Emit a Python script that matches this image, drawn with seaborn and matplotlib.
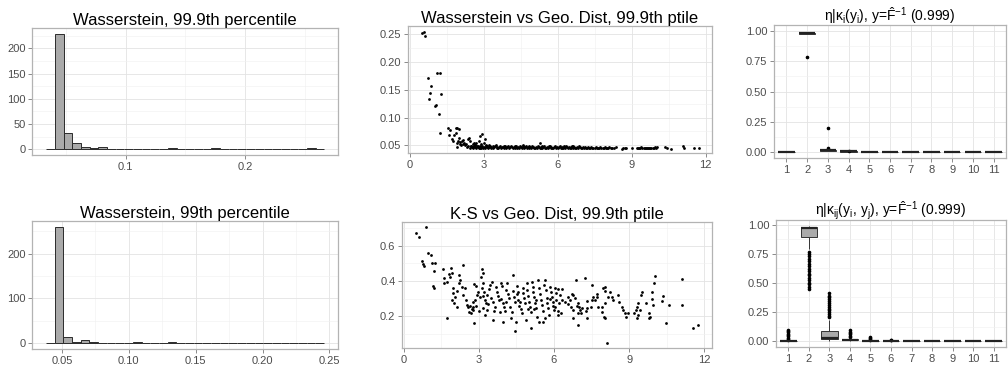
import numpy as np
import pandas as pd
import matplotlib
matplotlib.use("Agg")
import matplotlib.pyplot as plt
import seaborn as sns
from matplotlib.ticker import FixedLocator

# ------------------------------------------------------------------ data
# Histogram 1: Wasserstein distance, 99.9th percentile (bin counts)
w999_first_edge = 0.0335
w999_binwidth = 0.00727
w999_counts = [0, 229, 32, 12, 5, 3, 5, 0, 0, 0, 1, 1, 1, 1, 2, 0, 1, 0, 1, 2,
               0, 0, 0, 0, 0, 0, 0, 0, 0, 1, 2, 0]

# Histogram 2: Wasserstein distance, 99th percentile (bin counts)
w99_first_edge = 0.038
w99_binwidth = 0.0065
w99_counts = [0, 260, 13, 3, 7, 2, 1, 0, 0, 1, 2, 0, 0, 1, 2, 1, 0, 0, 1, 1,
              0, 0, 0, 0, 1, 0, 1, 0, 0, 1, 1, 0]

# Scatter 1: Wasserstein (99.9th ptile) vs geographic distance
wass_dist = [0.50, 0.56, 0.60, 0.73, 0.77, 0.84, 0.88, 1.02, 1.06, 1.11, 1.18, 1.23, 1.23, 1.26,
             1.56, 1.63, 1.86, 1.93, 2.00, 1.60, 1.79, 1.86, 1.76, 2.00, 2.41, 2.37, 2.94, 3.05,
             2.60, 1.70, 1.95, 2.05, 2.10, 2.15, 2.20, 2.45, 2.55, 2.70, 2.80, 2.85, 3.00, 3.10,
             1.92, 2.08, 2.25, 2.18, 2.30, 2.50, 2.65, 2.75, 2.90, 3.20, 5.28, 1.90, 2.02,
             2.32, 2.38, 2.44, 2.47, 2.52, 2.58, 2.61, 2.66, 2.69, 2.73, 2.77, 2.81, 2.84, 2.88,
             2.91, 2.95, 2.99, 2.63, 2.55, 2.86,
             3.02, 3.06, 3.09, 3.13, 3.17, 3.21, 3.24, 3.28, 3.31, 3.36, 3.39, 3.43, 3.47, 3.52,
             3.55, 3.59, 3.62, 3.66, 3.71, 3.74, 3.78, 3.81, 3.85, 3.88, 3.92, 3.96, 3.99, 3.15,
             3.49, 3.83,
             4.03, 4.07, 4.10, 4.14, 4.18, 4.21, 4.25, 4.29, 4.33, 4.36, 4.40, 4.43, 4.47, 4.51,
             4.54, 4.58, 4.62, 4.65, 4.69, 4.72, 4.76, 4.80, 4.83, 4.87, 4.90, 4.94, 4.98, 4.26,
             4.61, 4.85,
             5.01, 5.05, 5.08, 5.12, 5.16, 5.19, 5.23, 5.27, 5.31, 5.34, 5.38, 5.42, 5.45, 5.49,
             5.53, 5.56, 5.60, 5.63, 5.67, 5.71, 5.74, 5.78, 5.82, 5.85, 5.89, 5.93, 5.96, 5.36,
             5.65,
             6.01, 6.05, 6.08, 6.12, 6.16, 6.19, 6.23, 6.27, 6.30, 6.34, 6.38, 6.41, 6.45, 6.49,
             6.53, 6.56, 6.60, 6.64, 6.67, 6.71, 6.75, 6.78, 6.82, 6.86, 6.90, 6.93, 6.97, 6.25,
             6.62,
             7.02, 7.06, 7.10, 7.14, 7.18, 7.22, 7.26, 7.30, 7.35, 7.40, 7.45, 7.50, 7.55, 7.60,
             7.64, 7.69, 7.73, 7.77, 7.82, 7.86, 7.90, 7.95, 7.99,
             8.04, 8.10, 8.16, 8.22, 8.30, 8.38, 8.60, 8.64, 8.75, 8.78, 9.00,
             9.22, 9.27, 9.31, 9.36, 9.40, 9.44, 9.49, 9.53, 9.58, 9.62, 9.67, 9.71, 9.76, 9.80,
             9.85, 9.90, 9.95, 10.00, 10.03,
             10.35, 10.45, 10.58, 11.10, 11.12, 11.55, 11.75]
wass_999 = [0.253, 0.255, 0.247, 0.171, 0.133, 0.144, 0.156, 0.120, 0.123, 0.181, 0.107, 0.181, 0.073, 0.142,
            0.082, 0.077, 0.081, 0.081, 0.079, 0.068, 0.068, 0.073, 0.058, 0.063, 0.064, 0.061, 0.070, 0.061,
            0.0535, 0.062, 0.057, 0.056, 0.058, 0.052, 0.055, 0.057, 0.052, 0.055, 0.057, 0.066, 0.055, 0.051,
            0.047, 0.050, 0.050, 0.060, 0.053, 0.049, 0.051, 0.049, 0.052, 0.050, 0.0536, 0.055, 0.053,
            0.047, 0.049, 0.046, 0.048, 0.047, 0.045, 0.048, 0.047, 0.046, 0.049, 0.047, 0.046, 0.048, 0.045,
            0.047, 0.048, 0.046, 0.050, 0.047, 0.046,
            0.047, 0.046, 0.048, 0.047, 0.045, 0.047, 0.048, 0.046, 0.047, 0.049, 0.046, 0.047, 0.048, 0.046,
            0.047, 0.045, 0.047, 0.048, 0.046, 0.047, 0.047, 0.046, 0.048, 0.047, 0.046, 0.047, 0.048, 0.049,
            0.050, 0.049,
            0.046, 0.047, 0.048, 0.047, 0.046, 0.047, 0.045, 0.047, 0.048, 0.046, 0.047, 0.046, 0.048, 0.047,
            0.046, 0.049, 0.047, 0.046, 0.047, 0.048, 0.046, 0.047, 0.045, 0.047, 0.046, 0.048, 0.047, 0.049,
            0.050, 0.049,
            0.047, 0.046, 0.045, 0.047, 0.046, 0.048, 0.047, 0.046, 0.045, 0.047, 0.046, 0.047, 0.048, 0.046,
            0.045, 0.047, 0.046, 0.047, 0.048, 0.046, 0.047, 0.046, 0.045, 0.047, 0.048, 0.046, 0.047, 0.049,
            0.049,
            0.046, 0.047, 0.048, 0.046, 0.047, 0.046, 0.045, 0.047, 0.046, 0.048, 0.047, 0.046, 0.047, 0.045,
            0.046, 0.047, 0.048, 0.046, 0.047, 0.046, 0.045, 0.047, 0.046, 0.048, 0.047, 0.046, 0.045, 0.049,
            0.049,
            0.047, 0.046, 0.047, 0.045, 0.046, 0.047, 0.046, 0.045, 0.047, 0.046, 0.045, 0.046, 0.047, 0.046,
            0.045, 0.046, 0.047, 0.046, 0.045, 0.046, 0.047, 0.046, 0.045,
            0.046, 0.047, 0.046, 0.045, 0.046, 0.047, 0.044, 0.045, 0.045, 0.046, 0.046,
            0.045, 0.046, 0.045, 0.046, 0.047, 0.045, 0.046, 0.045, 0.046, 0.045, 0.046, 0.046, 0.045, 0.046,
            0.045, 0.046, 0.047, 0.046, 0.047,
            0.047, 0.046, 0.044, 0.048, 0.046, 0.045, 0.045]

# Scatter 2: K-S statistic (99.9th ptile) vs geographic distance
ks_dist = [0.51, 0.60, 0.88, 0.99, 1.07, 0.72, 0.77, 0.83, 1.11, 1.24, 1.21, 1.17, 1.21, 1.55, 1.61,
           1.59, 1.73, 1.87, 1.91, 1.81, 1.84, 1.71, 1.97, 1.95, 2.04, 1.91, 2.01, 2.11, 2.21, 2.24,
           2.21, 2.37, 2.31, 2.13, 2.44, 2.35, 2.48, 2.51, 2.57, 2.64, 2.71, 2.77, 2.67, 2.80, 2.61,
           2.75, 2.84, 2.91, 2.80, 2.88, 2.97, 3.04, 3.11, 3.15, 3.09, 3.17, 3.11, 3.20, 3.15, 3.24,
           3.28, 3.17, 3.31, 3.33, 3.41, 3.44, 3.51, 3.47, 3.57, 3.64, 3.55, 3.68, 3.73, 3.77, 3.81,
           3.87, 3.91, 3.95, 4.00, 4.04, 3.84, 4.08, 4.13, 4.17, 4.21, 4.24, 4.31, 4.35, 4.37, 4.40,
           4.44, 4.48, 4.51, 4.53, 4.57, 4.61, 4.67, 4.71, 4.75, 4.77, 4.80, 4.84, 4.88, 4.91, 4.93,
           4.97, 5.01, 5.04, 5.08, 5.12, 5.15, 5.17, 5.20, 5.24, 5.28, 5.33, 5.37, 5.41, 5.44, 5.47,
           5.51, 5.55, 5.57, 5.60, 5.64, 5.68, 5.71, 5.73, 5.77, 5.81, 5.84, 5.87, 5.91, 5.95, 5.97,
           6.00, 4.45, 5.10, 3.97, 5.40, 2.78, 3.35, 4.10, 4.65, 5.30, 5.85, 3.60, 4.30, 5.65, 3.00,
           3.90, 4.95, 2.90, 3.25, 4.55, 5.20,
           6.04, 6.17, 6.33, 6.10, 6.23, 6.08, 6.31, 6.20, 6.44, 6.04, 6.17, 6.28, 6.15, 6.57, 6.55,
           6.64, 6.71, 6.77, 6.84, 6.68, 6.77, 6.91, 6.97, 7.00, 7.04, 7.08, 7.11, 6.95, 6.77, 6.97,
           7.30, 7.30, 7.30, 7.27, 7.51, 7.48, 7.53, 7.57, 7.64, 7.71, 7.71, 7.77, 7.91, 7.93, 7.97,
           8.04, 8.04, 8.01, 8.04, 8.11, 8.17, 8.24, 8.31, 8.37, 8.04, 8.57, 8.61, 8.71, 8.84, 8.77,
           8.88, 8.95, 9.20, 9.27, 9.31, 9.35, 9.31, 9.37, 9.44, 9.49, 9.53, 9.67, 9.80, 9.84, 9.81,
           9.91, 9.93, 9.97, 10.00, 10.04, 10.33, 10.37, 10.48, 10.60, 11.13, 11.13, 11.57, 11.77,
           6.88, 7.24]
ks_999 = [0.675, 0.652, 0.705, 0.561, 0.546, 0.512, 0.497, 0.486, 0.505, 0.505, 0.459, 0.372, 0.363, 0.467, 0.419,
          0.391, 0.188, 0.472, 0.448, 0.438, 0.421, 0.397, 0.359, 0.334, 0.307, 0.293, 0.274, 0.250, 0.435, 0.406,
          0.387, 0.491, 0.368, 0.345, 0.359, 0.321, 0.293, 0.264, 0.255, 0.259, 0.240, 0.250, 0.217, 0.164, 0.226,
          0.283, 0.293, 0.321, 0.383, 0.372, 0.340, 0.312, 0.467, 0.444, 0.421, 0.387, 0.359, 0.340, 0.315, 0.293,
          0.274, 0.245, 0.236, 0.321, 0.353, 0.378, 0.397, 0.302, 0.283, 0.250, 0.179, 0.368, 0.340, 0.315, 0.293,
          0.391, 0.372, 0.274, 0.250, 0.232, 0.226, 0.349, 0.387, 0.327, 0.302, 0.255, 0.226, 0.435, 0.345, 0.312,
          0.283, 0.169, 0.372, 0.327, 0.293, 0.259, 0.240, 0.217, 0.359, 0.334, 0.302, 0.274, 0.179, 0.387, 0.349,
          0.315, 0.283, 0.255, 0.226, 0.397, 0.368, 0.340, 0.308, 0.277, 0.245, 0.198, 0.406, 0.359, 0.327, 0.293,
          0.264, 0.232, 0.169, 0.378, 0.406, 0.349, 0.302, 0.274, 0.245, 0.207, 0.368, 0.340, 0.312, 0.283, 0.259,
          0.236, 0.118, 0.133, 0.170, 0.165, 0.235, 0.270, 0.280, 0.280, 0.290, 0.300, 0.230, 0.190, 0.190, 0.230,
          0.300, 0.240, 0.260, 0.210, 0.340, 0.240,
          0.359, 0.353, 0.355, 0.330, 0.320, 0.293, 0.293, 0.274, 0.283, 0.250, 0.232, 0.217, 0.207, 0.308, 0.270,
          0.293, 0.327, 0.320, 0.302, 0.250, 0.236, 0.259, 0.277, 0.250, 0.236, 0.217, 0.245, 0.217, 0.192, 0.151,
          0.287, 0.245, 0.188, 0.232, 0.378, 0.255, 0.293, 0.312, 0.293, 0.327, 0.312, 0.250, 0.255, 0.226, 0.359,
          0.368, 0.345, 0.198, 0.189, 0.047, 0.308, 0.340, 0.312, 0.293, 0.274, 0.321, 0.283, 0.255, 0.217, 0.236,
          0.198, 0.217, 0.221, 0.236, 0.255, 0.274, 0.189, 0.208, 0.236, 0.321, 0.340, 0.277, 0.221, 0.198, 0.189,
          0.340, 0.300, 0.262, 0.387, 0.429, 0.287, 0.315, 0.160, 0.266, 0.410, 0.262, 0.131, 0.150,
          0.406, 0.416]

# Box plots: categories 1..11
box_categories = ['1', '2', '3', '4', '5', '6', '7', '8', '9', '10', '11']

eta_i_groups = [
    [0.0, 0.001, 0.001, 0.002, 0.002, 0.003, 0.003, 0.004],
    [0.787, 0.972, 0.977, 0.978, 0.979, 0.980, 0.981, 0.982, 0.983, 0.984, 0.985, 0.986],
    [0.005, 0.008, 0.010, 0.011, 0.012, 0.013, 0.014, 0.016, 0.018, 0.030, 0.194],
    [0.001, 0.002, 0.003, 0.003, 0.004, 0.004, 0.005, 0.006, 0.011],
    [0.0, 0.0, 0.001, 0.001, 0.001, 0.002],
    [0.0, 0.0, 0.001, 0.001, 0.001, 0.002],
    [0.0, 0.0, 0.001, 0.001, 0.001, 0.002],
    [0.0, 0.0, 0.001, 0.001, 0.001, 0.002],
    [0.0, 0.0, 0.001, 0.001, 0.001, 0.002],
    [0.0, 0.0, 0.001, 0.001, 0.001, 0.002],
    [0.0, 0.0, 0.001, 0.001, 0.001, 0.002],
]

eta_ij_groups = [
    [0.0, 0.0, 0.0002, 0.0004, 0.0006, 0.0008, 0.001, 0.0012, 0.0014, 0.0016, 0.0018, 0.002,
     0.0022, 0.0024, 0.0026, 0.0028, 0.003, 0.0032, 0.0034, 0.0036, 0.0038, 0.004, 0.0042,
     0.0044, 0.0046, 0.0048, 0.005, 0.0052, 0.0054, 0.0056, 0.0058, 0.006,
     0.014, 0.022, 0.030, 0.041, 0.052, 0.063, 0.075, 0.088, 0.100],
    [0.452, 0.468, 0.490, 0.503, 0.527, 0.541, 0.566, 0.580, 0.604, 0.622, 0.648, 0.661, 0.689,
     0.704, 0.731, 0.748, 0.766,
     0.792, 0.821, 0.846, 0.868, 0.889,
     0.901, 0.905, 0.909, 0.912, 0.918, 0.921, 0.925, 0.929, 0.933, 0.936, 0.940, 0.943, 0.947,
     0.950, 0.953, 0.956, 0.958, 0.961, 0.963, 0.965, 0.967, 0.969,
     0.970, 0.9705, 0.971, 0.9715, 0.972, 0.9725, 0.973, 0.9735, 0.974, 0.9745, 0.975, 0.9755,
     0.976, 0.9765, 0.977, 0.9775, 0.978, 0.9785, 0.979, 0.9795, 0.9798, 0.980,
     0.9802, 0.9805, 0.981, 0.9812, 0.9815, 0.982, 0.9823, 0.9826, 0.983, 0.9834, 0.9838, 0.984,
     0.9845, 0.985, 0.9855, 0.986, 0.9865, 0.987, 0.9875, 0.988, 0.9885, 0.989],
    [0.0, 0.001, 0.002, 0.003, 0.004, 0.005, 0.006, 0.007, 0.008, 0.009, 0.010, 0.011, 0.012,
     0.0125, 0.013, 0.0135, 0.014, 0.0145, 0.015, 0.0155, 0.016, 0.0165,
     0.017, 0.0173, 0.0176, 0.018, 0.0183, 0.0186, 0.019, 0.0193, 0.0196, 0.020, 0.0203, 0.0206,
     0.021, 0.0213, 0.0216, 0.022, 0.0222, 0.0224, 0.0226, 0.0228, 0.023, 0.0232,
     0.024, 0.026, 0.028, 0.030, 0.033, 0.036, 0.039, 0.042, 0.045, 0.048, 0.051, 0.054, 0.057,
     0.060, 0.063, 0.066, 0.069, 0.072, 0.075, 0.078, 0.082, 0.085,
     0.095, 0.108, 0.120, 0.135, 0.148, 0.160, 0.172, 0.185,
     0.205, 0.218, 0.236, 0.250, 0.265, 0.280, 0.296, 0.310, 0.325, 0.342, 0.360, 0.375, 0.392, 0.410],
    [0.005, 0.006, 0.0065, 0.007, 0.0075, 0.008, 0.0085, 0.009, 0.009, 0.0095, 0.010, 0.010,
     0.0105, 0.011, 0.011, 0.0115, 0.012, 0.0125, 0.013, 0.0135, 0.014, 0.0145, 0.015, 0.016,
     0.025, 0.035, 0.046, 0.058, 0.070, 0.083, 0.097],
    [0.0, 0.0005, 0.001, 0.001, 0.0015, 0.002, 0.002, 0.0025, 0.003, 0.003, 0.0035, 0.004,
     0.004, 0.0045, 0.005, 0.005, 0.0055, 0.006, 0.006, 0.0065, 0.014, 0.021, 0.028, 0.035],
    [0.0, 0.0, 0.0005, 0.0005, 0.001, 0.001, 0.001, 0.0015, 0.0015, 0.002, 0.002, 0.0025, 0.008, 0.011],
    [0.0, 0.0, 0.0002, 0.0004, 0.0006, 0.0008, 0.001, 0.0012],
    [0.0, 0.0, 0.0002, 0.0004, 0.0006, 0.0008, 0.001, 0.0012],
    [0.0, 0.0, 0.0002, 0.0004, 0.0006, 0.0008, 0.001, 0.0012],
    [0.0, 0.0, 0.0002, 0.0004, 0.0006, 0.0008, 0.001, 0.0012],
    [0.0, 0.0, 0.0002, 0.0004, 0.0006, 0.0008, 0.001, 0.0012],
]

titles = ["Wasserstein, 99.9th percentile",
          "Wasserstein vs Geo. Dist, 99.9th ptile",
          r"$\eta|\kappa_{i}(y_{i})$, y=$\hat{F}^{-1}$ (0.999)",
          "Wasserstein, 99th percentile",
          "K-S vs Geo. Dist, 99.9th ptile",
          r"$\eta|\kappa_{ij}(y_{i},\,y_{j})$, y=$\hat{F}^{-1}$ (0.999)"]

# ------------------------------------------------------------------ style
sns.set_style("white")
plt.rcParams['font.family'] = ['Liberation Sans', 'DejaVu Sans']
plt.rcParams['mathtext.fontset'] = 'custom'
plt.rcParams['mathtext.rm'] = 'Liberation Sans'
plt.rcParams['mathtext.it'] = 'Liberation Sans'
plt.rcParams['mathtext.bf'] = 'Liberation Sans:bold'
plt.rcParams['mathtext.sf'] = 'Liberation Sans'

W, H = 1008, 368
fig = plt.figure(figsize=(W / 100, H / 100), dpi=100)
fig.patch.set_facecolor('white')


def add_ax(x0, y0, x1, y1):
    return fig.add_axes([x0 / W, 1 - y1 / H, (x1 - x0) / W, (y1 - y0) / H])


def style(ax, xmaj, xlab, xmin, ymaj, ylab, ymin, title, tsize=12, tpad=2.0):
    ax.set_facecolor('white')
    for s in ax.spines.values():
        s.set_visible(True)
        s.set_color('#b3b3b3')
        s.set_linewidth(0.9)
    ax.xaxis.set_major_locator(FixedLocator(xmaj))
    ax.set_xticklabels(xlab)
    ax.xaxis.set_minor_locator(FixedLocator(xmin))
    ax.yaxis.set_major_locator(FixedLocator(ymaj))
    ax.set_yticklabels(ylab)
    ax.yaxis.set_minor_locator(FixedLocator(ymin))
    ax.grid(which='major', color='#e3e3e3', linewidth=0.6)
    ax.grid(which='minor', color='#f0f0f0', linewidth=0.4)
    ax.set_axisbelow(True)
    ax.tick_params(which='major', length=3.2, width=0.6, color='#777777',
                   labelsize=8, labelcolor='#4d4d4d', pad=1.5,
                   bottom=True, left=True, top=False, right=False)
    ax.tick_params(which='minor', length=0)
    ax.set_xlabel('')
    ax.set_ylabel('')
    ax.set_title(title, fontsize=tsize, color='black', pad=tpad)


def hist_panel(ax, first_edge, width, counts):
    n = len(counts)
    edges = [first_edge + width * i for i in range(n + 1)]
    centers = [(edges[i] + edges[i + 1]) / 2 for i in range(n)]
    df = pd.DataFrame({'value': centers, 'count': [float(c) for c in counts]})
    sns.histplot(data=df, x='value', weights='count', bins=edges, ax=ax,
                 color='#aaaaaa', edgecolor='#2b2b2b', linewidth=0.7, alpha=1.0)


def box_panel(ax, groups):
    cats, vals = [], []
    for c, g in zip(box_categories, groups):
        cats += [c] * len(g)
        vals += g
    df = pd.DataFrame({'cat': cats, 'val': vals})
    sns.boxplot(data=df, x='cat', y='val', order=box_categories, ax=ax,
                color='#aaaaaa', saturation=1, linecolor='#333333', linewidth=0.7,
                width=0.8, fliersize=1.6, showcaps=False,
                flierprops=dict(marker='o', markerfacecolor='black', markeredgecolor='black'),
                medianprops=dict(color='#222222', linewidth=1.6))


# Panel 1
ax1 = add_ax(32, 28, 338, 155)
hist_panel(ax1, w999_first_edge, w999_binwidth, w999_counts)
ax1.set_xlim(0.0217, 0.2775)
ax1.set_ylim(-11.45, 240.45)
style(ax1, [0.1, 0.2], ['0.1', '0.2'], [0.05, 0.15, 0.25],
      [0, 50, 100, 150, 200], ['0', '50', '100', '150', '200'], [25, 75, 125, 175, 225],
      titles[0])

# Panel 4
ax4 = add_ax(32, 221, 338, 349)
hist_panel(ax4, w99_first_edge, w99_binwidth, w99_counts)
ax4.set_xlim(0.0276, 0.2564)
ax4.set_ylim(-13, 273)
style(ax4, [0.05, 0.10, 0.15, 0.20, 0.25], ['0.05', '0.10', '0.15', '0.20', '0.25'],
      [0.075, 0.125, 0.175, 0.225],
      [0, 100, 200], ['0', '100', '200'], [50, 150, 250], titles[3])

# Panel 2
ax2 = add_ax(408, 26, 712, 153.3)
sns.scatterplot(x=wass_dist, y=wass_999, ax=ax2, s=4, color='black', linewidth=0)
ax2.set_xlim(-0.07, 12.26)
ax2.set_ylim(0.0356, 0.265)
style(ax2, [0, 3, 6, 9, 12], ['0', '3', '6', '9', '12'], [1.5, 4.5, 7.5, 10.5],
      [0.05, 0.10, 0.15, 0.20, 0.25], ['0.05', '0.10', '0.15', '0.20', '0.25'],
      [0.075, 0.125, 0.175, 0.225], titles[1])

# Panel 5
ax5 = add_ax(402, 221.7, 712, 348.3)
sns.scatterplot(x=ks_dist, y=ks_999, ax=ax5, s=4, color='black', linewidth=0)
ax5.set_xlim(-0.068, 12.31)
ax5.set_ylim(0.018, 0.7375)
style(ax5, [0, 3, 6, 9, 12], ['0', '3', '6', '9', '12'], [1.5, 4.5, 7.5, 10.5],
      [0.2, 0.4, 0.6], ['0.2', '0.4', '0.6'], [0.1, 0.3, 0.5, 0.7], titles[4])

# Panel 3
ax3 = add_ax(774, 25, 1006, 158)
box_panel(ax3, eta_i_groups)
ax3.set_xlim(-0.6, 10.6)
ax3.set_ylim(-0.05, 1.05)
style(ax3, list(range(11)), box_categories, [],
      [0, 0.25, 0.5, 0.75, 1.0], ['0.00', '0.25', '0.50', '0.75', '1.00'],
      [0.125, 0.375, 0.625, 0.875], titles[2], tsize=10, tpad=3)

# Panel 6
ax6 = add_ax(776, 220, 1006, 347)
box_panel(ax6, eta_ij_groups)
ax6.set_xlim(-0.6, 10.6)
ax6.set_ylim(-0.0495, 1.0395)
style(ax6, list(range(11)), box_categories, [],
      [0, 0.25, 0.5, 0.75, 1.0], ['0.00', '0.25', '0.50', '0.75', '1.00'],
      [0.125, 0.375, 0.625, 0.875], titles[5], tsize=10, tpad=3)

fig.savefig('out.png', dpi=100, facecolor='white')
